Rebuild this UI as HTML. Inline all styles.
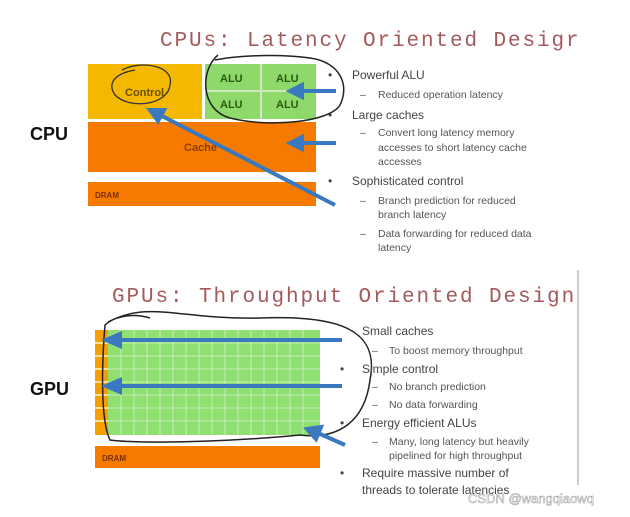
<!DOCTYPE html>
<html><head><style>
body{margin:0;background:#fff;}
svg{display:block}
.t{font-family:"Liberation Sans",sans-serif;fill:#444;font-size:12px}
.s{font-family:"Liberation Sans",sans-serif;fill:#555;font-size:10.5px}
.ti{font-family:"Liberation Mono",monospace;fill:#a45a5a;font-size:21px;letter-spacing:1.9px}
.b{font-family:"Liberation Sans",sans-serif;font-weight:bold;fill:#111;font-size:18px}
.l{font-family:"Liberation Sans",sans-serif;font-weight:bold;fill:#2a5a10;font-size:11px}
</style></head><body>
<svg width="630" height="517" viewBox="0 0 630 517">
<rect width="630" height="517" fill="#fff"/>
<text class="ti" x="160" y="46">CPUs: Latency Oriented Desigr</text>
<text class="b" x="30" y="140">CPU</text>
<rect x="88" y="64" width="114" height="55" fill="#f5b800"/>
<rect x="205" y="64" width="111" height="55" fill="#8fd86a"/>
<line x1="261" y1="64" x2="261" y2="119" stroke="#cfe8c0" stroke-width="2"/>
<line x1="205" y1="91" x2="316" y2="91" stroke="#cfe8c0" stroke-width="2"/>
<text class="l" x="220" y="82">ALU</text><text class="l" x="276" y="82">ALU</text>
<text class="l" x="220" y="108">ALU</text><text class="l" x="276" y="108">ALU</text>
<text x="125" y="96" font-family="Liberation Sans" font-weight="bold" font-size="11" fill="#6a5000">Control</text>
<rect x="88" y="122" width="228" height="50" fill="#f67a00"/>
<text x="184" y="151" font-family="Liberation Sans" font-weight="bold" font-size="11" fill="#8a4000">Cache</text>
<rect x="88" y="182" width="228" height="24" fill="#f67a00"/>
<text x="95" y="198" font-family="Liberation Sans" font-weight="bold" font-size="8" fill="#7a3000">DRAM</text>
<path d="M122 70 C140 60,175 65,170 85 C168 105,130 110,115 95 C108 85,112 74,135 70" fill="none" stroke="#333" stroke-width="1.3"/>
<path d="M218 55 C200 70,200 110,230 118 C270 128,330 122,340 105 C350 85,340 62,310 58 C280 54,240 55,215 60" fill="none" stroke="#222" stroke-width="1.5"/>
<g stroke="#3a78c0" stroke-width="4" fill="#3a78c0">
<line x1="336" y1="91" x2="300" y2="91"/><polygon points="290,91 302,85 302,97"/>
<line x1="336" y1="143" x2="300" y2="143"/><polygon points="290,143 302,137 302,149"/>
<line x1="335" y1="205" x2="160" y2="115"/><polygon points="150,110 164,110 158,121"/>
</g>
<g class="t">
<text x="328" y="79">•</text><text x="352" y="79">Powerful ALU</text>
<text x="328" y="119">•</text><text x="352" y="119">Large caches</text>
<text x="328" y="185">•</text><text x="352" y="185">Sophisticated control</text>
</g>
<g class="s">
<text x="360" y="98">–</text><text x="378" y="98">Reduced operation latency</text>
<text x="360" y="136">–</text><text x="378" y="136">Convert long latency memory</text>
<text x="378" y="151">accesses to short latency cache</text>
<text x="378" y="165">accesses</text>
<text x="360" y="204">–</text><text x="378" y="204">Branch prediction for reduced</text>
<text x="378" y="218">branch latency</text>
<text x="360" y="237">–</text><text x="378" y="237">Data forwarding for reduced data</text>
<text x="378" y="251">latency</text>
</g>
<line x1="578" y1="270" x2="578" y2="485" stroke="#bbb" stroke-width="1.5"/>
<text class="ti" x="112" y="302">GPUs: Throughput Oriented Design</text>
<text class="b" x="30" y="395">GPU</text>
<rect x="95" y="330" width="13" height="105" fill="#f5a000"/>
<g stroke="#fff6c0" stroke-width="1.5">
<line x1="95" y1="343" x2="108" y2="343"/><line x1="95" y1="356" x2="108" y2="356"/><line x1="95" y1="369" x2="108" y2="369"/><line x1="95" y1="382" x2="108" y2="382"/><line x1="95" y1="395" x2="108" y2="395"/><line x1="95" y1="408" x2="108" y2="408"/><line x1="95" y1="421" x2="108" y2="421"/>
</g>
<rect x="108" y="330" width="212" height="105" fill="#8fe070"/>
<g stroke="#c8ecb8" stroke-width="1">
<line x1="108" y1="343" x2="320" y2="343"/><line x1="108" y1="356" x2="320" y2="356"/><line x1="108" y1="369" x2="320" y2="369"/><line x1="108" y1="382" x2="320" y2="382"/><line x1="108" y1="395" x2="320" y2="395"/><line x1="108" y1="408" x2="320" y2="408"/><line x1="108" y1="421" x2="320" y2="421"/>
<line x1="121" y1="330" x2="121" y2="435"/><line x1="134" y1="330" x2="134" y2="435"/><line x1="147" y1="330" x2="147" y2="435"/><line x1="160" y1="330" x2="160" y2="435"/><line x1="173" y1="330" x2="173" y2="435"/><line x1="186" y1="330" x2="186" y2="435"/><line x1="199" y1="330" x2="199" y2="435"/><line x1="212" y1="330" x2="212" y2="435"/><line x1="225" y1="330" x2="225" y2="435"/><line x1="238" y1="330" x2="238" y2="435"/><line x1="251" y1="330" x2="251" y2="435"/><line x1="264" y1="330" x2="264" y2="435"/><line x1="277" y1="330" x2="277" y2="435"/><line x1="290" y1="330" x2="290" y2="435"/><line x1="303" y1="330" x2="303" y2="435"/>
</g>
<rect x="95" y="446" width="225" height="22" fill="#f67a00"/>
<text x="102" y="461" font-family="Liberation Sans" font-weight="bold" font-size="8" fill="#7a3000">DRAM</text>
<path d="M108 322 C150 300,180 320,260 318 C340 315,380 330,370 380 C365 420,340 440,300 435 C250 440,150 445,110 440 C100 420,102 360,105 325 C112 318,130 312,150 318" fill="none" stroke="#222" stroke-width="1.5"/>
<g stroke="#3a78c0" stroke-width="4" fill="#3a78c0">
<line x1="342" y1="340" x2="118" y2="340"/><polygon points="106,340 120,334 120,346"/>
<line x1="342" y1="386" x2="118" y2="386"/><polygon points="106,386 120,380 120,392"/>
<line x1="345" y1="445" x2="318" y2="433"/><polygon points="307,429 321,427 316,439"/>
</g>
<g class="t">
<text x="362" y="335">Small caches</text>
<text x="340" y="373">•</text><text x="362" y="373">Simple control</text>
<text x="340" y="427">•</text><text x="362" y="427">Energy efficient ALUs</text>
<text x="340" y="477">•</text><text x="362" y="477">Require massive number of</text>
<text x="362" y="494">threads to tolerate latencies</text>
</g>
<g class="s">
<text x="372" y="354">–</text><text x="389" y="354">To boost memory throughput</text>
<text x="372" y="390">–</text><text x="389" y="390">No branch prediction</text>
<text x="372" y="408">–</text><text x="389" y="408">No data forwarding</text>
<text x="372" y="445">–</text><text x="389" y="445">Many, long latency but heavily</text>
<text x="389" y="459">pipelined for high throughput</text>
</g>
<text x="468" y="503" font-family="Liberation Sans" font-size="13" fill="#fff" stroke="#999" stroke-width="0.5">CSDN @wangqiaowq</text>
</svg>
</body></html>
